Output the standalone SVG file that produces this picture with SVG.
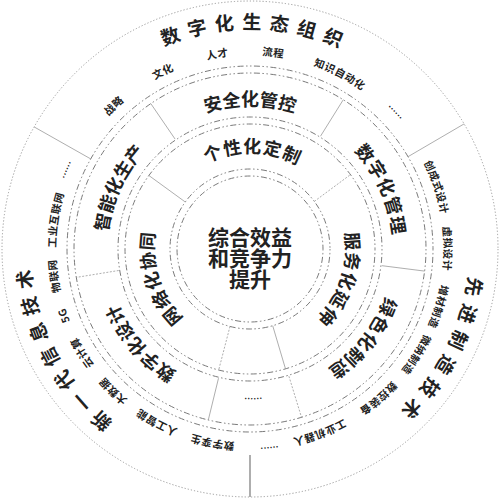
<svg xmlns="http://www.w3.org/2000/svg" width="500" height="500" viewBox="0 0 500 500">
<style>
text{font-family:"Noto Sans CJK SC","Noto Sans",sans-serif;fill:#222;text-anchor:middle}
.big{font-size:19px;letter-spacing:7.9px;font-weight:bold}
.ring{font-size:18px;letter-spacing:1px;font-weight:bold}
.sm{font-size:10.5px;letter-spacing:0.5px;font-weight:bold}
.dots{font-size:11px}
.ctr{font-size:21px;font-weight:bold}
.c{fill:none;stroke:#7a7a7a;stroke-width:1;stroke-dasharray:1.5 2.5 1.5 2.5 6 2.5}
.o{fill:none;stroke:#999;stroke-width:1;stroke-dasharray:1.2 2}
.sep{stroke:#999;stroke-width:0.8;fill:none}
.sepd{stroke:#999;stroke-width:0.8;stroke-dasharray:2 1.5;fill:none}
</style>
<defs>
<path id="A220" d="M250,469 A220,220 0 1 1 250,29 A220,220 0 1 1 250,469"/>
<path id="B220" d="M250,29 A220,220 0 1 1 250,469 A220,220 0 1 1 250,29"/>
<path id="A194" d="M250,443 A194,194 0 1 1 250,55 A194,194 0 1 1 250,443"/>
<path id="B194" d="M250,55 A194,194 0 1 1 250,443 A194,194 0 1 1 250,55"/>
<path id="A199" d="M250,448 A199,199 0 1 1 250,50 A199,199 0 1 1 250,448"/>
<path id="B199" d="M250,50 A199,199 0 1 1 250,448 A199,199 0 1 1 250,50"/>
<path id="A143" d="M250,392 A143,143 0 1 1 250,106 A143,143 0 1 1 250,392"/>
<path id="B143" d="M250,106 A143,143 0 1 1 250,392 A143,143 0 1 1 250,106"/>
<path id="B149" d="M250,100 A149,149 0 1 1 250,398 A149,149 0 1 1 250,100"/>
<path id="A96" d="M250,345 A96,96 0 1 1 250,153 A96,96 0 1 1 250,345"/>
<path id="B96" d="M250,153 A96,96 0 1 1 250,345 A96,96 0 1 1 250,153"/>
</defs>
<rect width="500" height="500" fill="#fff"/>
<g id="rings">
<circle class="o" cx="250" cy="249" r="248"/>
<circle class="c" cx="250" cy="249" r="183"/>
<circle class="c" cx="250" cy="249" r="176"/>
<circle class="c" cx="250" cy="249" r="132"/>
<circle class="c" cx="250" cy="249" r="125"/>
<circle class="c" cx="250" cy="249" r="80"/>
<circle class="c" cx="250" cy="249" r="73"/>
</g>
<g id="connectors">
<line class="sep" x1="90.7" y1="158.9" x2="34.1" y2="126.9"/>
<line class="sep" x1="408" y1="156.7" x2="464.1" y2="123.9"/>
<line class="sep" x1="250" y1="455" x2="250" y2="497" style="stroke:#777;stroke-width:1.2"/>
<line class="sep" x1="175.1" y1="139.1" x2="150.8" y2="103.6"/>
<line class="sep" x1="320.5" y1="136.2" x2="343.3" y2="99.7"/>
<line class="sepd" x1="118.7" y1="270.5" x2="76.3" y2="277.4"/>
<line class="sep" x1="382" y1="265.7" x2="424.6" y2="271.1"/>
<line class="sep" x1="218.5" y1="378.2" x2="208.3" y2="420"/>
<line class="sepd" x1="288.9" y1="376.2" x2="301.5" y2="417.3"/>
<line class="sep" x1="185.3" y1="202" x2="148.9" y2="175.5"/>
<line class="sepd" x1="314.3" y1="201.4" x2="350.5" y2="174.6"/>
<line class="sepd" x1="230" y1="326.4" x2="218.7" y2="370"/>
<line class="sep" x1="272.7" y1="325.7" x2="285.5" y2="368.9"/>
</g>
<g id="center"><text class="ctr" x="250" y="245">综合效益</text><text class="ctr" x="250" y="266">和竞争力</text><text class="ctr" x="250" y="287">提升</text></g>
<g id="ecosystem">
<text class="big"><textPath href="#A220" startOffset="696.7">数字化生态组织</textPath></text>
<text class="sm"><textPath href="#A194" startOffset="461.8">战略</textPath></text>
<text class="sm"><textPath href="#A194" startOffset="520.8">文化</textPath></text>
<text class="sm"><textPath href="#A194" startOffset="577">人才</textPath></text>
<text class="sm"><textPath href="#A194" startOffset="632.2">流程</textPath></text>
<text class="sm"><textPath href="#A194" startOffset="701.2">知识自动化</textPath></text>
<text class="dots"><textPath href="#A199" startOffset="787">......</textPath></text>
</g>
<g id="manufacturing">
<text class="big"><textPath href="#B220" startOffset="453.6">先进制造技术</textPath></text>
<text class="sm"><textPath href="#A194" startOffset="851.6">创成式设计</textPath></text>
<text class="sm"><textPath href="#A194" startOffset="913.5">虚拟设计</textPath></text>
<text class="sm"><textPath href="#B194" startOffset="362.3">增材制造</textPath></text>
<text class="sm"><textPath href="#B194" startOffset="414.4">微纳制造</textPath></text>
<text class="sm"><textPath href="#B194" startOffset="471.7">数控装备</textPath></text>
<text class="sm"><textPath href="#B194" startOffset="539">工业机器人</textPath></text>
<text class="dots"><textPath href="#B199" startOffset="605.4">......</textPath></text>
</g>
<g id="it">
<text class="big" style="letter-spacing:7.5px"><textPath href="#A220" startOffset="240">新一代信息技术</textPath></text>
<text class="sm"><textPath href="#B194" startOffset="646.7">数字孪生</textPath></text>
<text class="sm"><textPath href="#B194" startOffset="705">人工智能</textPath></text>
<text class="sm"><textPath href="#B194" startOffset="757.8">大数据</textPath></text>
<text class="sm"><textPath href="#B194" startOffset="806.5">云计算</textPath></text>
<text class="sm"><textPath href="#B194" startOffset="847.2">5G</textPath></text>
<text class="sm"><textPath href="#B194" startOffset="887.1">物联网</textPath></text>
<text class="sm"><textPath href="#A194" startOffset="333.5">工业互联网</textPath></text>
<text class="dots"><textPath href="#A199" startOffset="393.5">......</textPath></text>
</g>
<g id="n-safety"><text class="ring" style="letter-spacing:0"><textPath href="#A143" startOffset="449.2">安全化管控</textPath></text></g>
<g id="n-mgmt"><text class="ring"><textPath href="#A143" startOffset="613.2">数字化管理</textPath></text></g>
<g id="n-prod"><text class="ring" style="letter-spacing:0"><textPath href="#A143" startOffset="286.5">智能化生产</textPath></text></g>
<g id="n-design"><text class="ring" style="letter-spacing:0.5px"><textPath href="#A143" startOffset="123">数字化设计</textPath></text></g>
<g id="n-green"><text class="ring"><textPath href="#B143" startOffset="320.5">绿色化制造</textPath></text></g>
<g id="n-more"><text class="dots"><textPath href="#B149" startOffset="464.7">......</textPath></text></g>
<g id="n-custom"><text class="ring"><textPath href="#A96" startOffset="303.8">个性化定制</textPath></text></g>
<g id="n-service"><text class="ring"><textPath href="#B96" startOffset="181.6">服务化延伸</textPath></text></g>
<g id="n-network"><text class="ring"><textPath href="#A96" startOffset="120.5">网络化协同</textPath></text></g>
</svg>
